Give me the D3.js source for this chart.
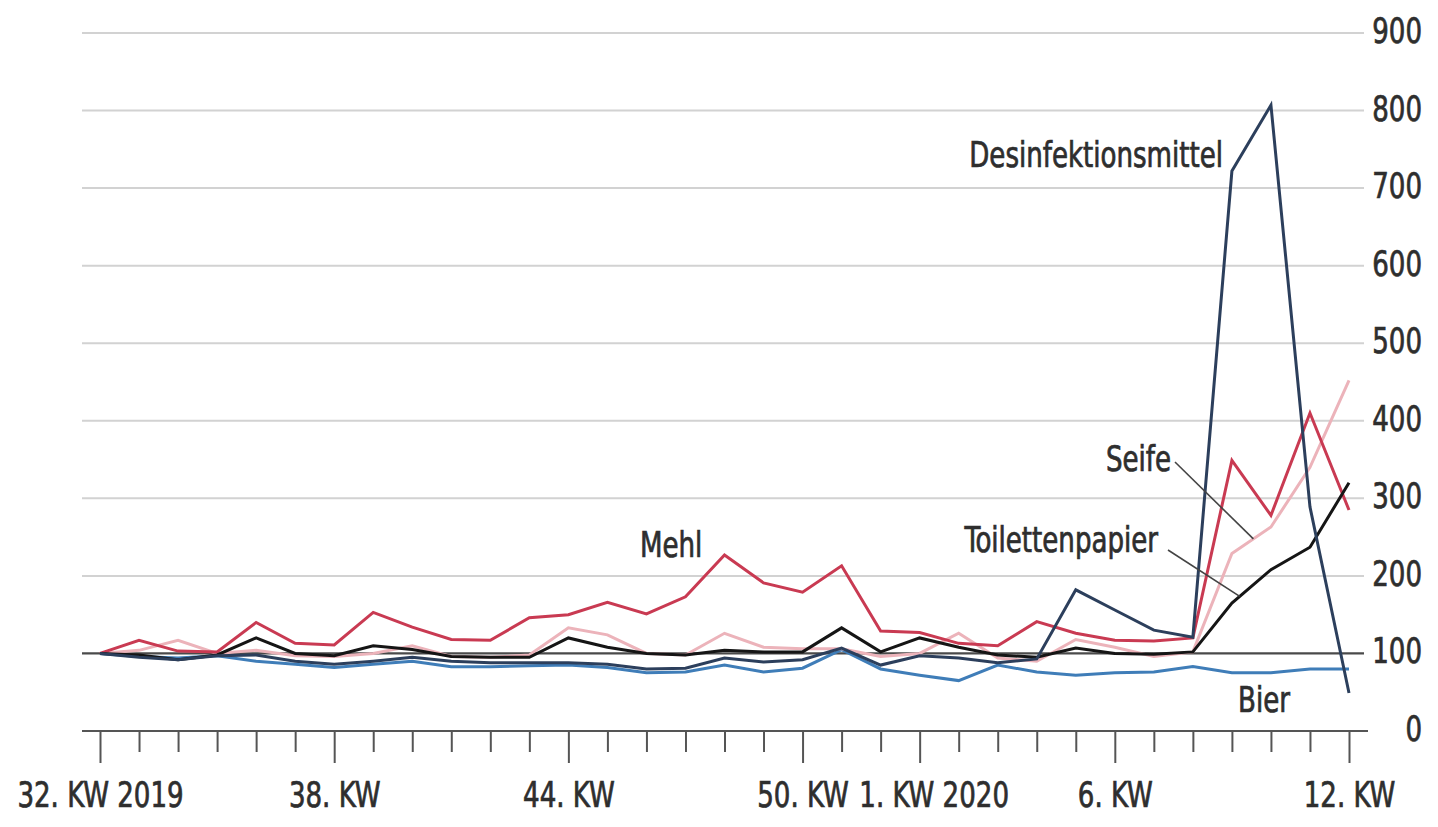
<!DOCTYPE html>
<html><head><meta charset="utf-8">
<script src="https://cdn.jsdelivr.net/npm/d3@7"></script>
<style>
body{margin:0;background:#fff}
text{font-family:"DejaVu Sans Condensed","DejaVu Sans",sans-serif;font-stretch:condensed;fill:#2e2e2e;font-size:29px;stroke:#2e2e2e;stroke-width:0.6px}
</style>
</head><body>
<svg id="c" width="1438" height="827"></svg>
<script>
// ---- data ----
const weeks = ["32","33","34","35","36","37","38","39","40","41","42","43","44","45","46","47","48","49","50","51","52",
               "1","2","3","4","5","6","7","8","9","10","11","12"];
const majorTickIdx = [0,6,12,18,21,26,32];
const tickLabels = ["32. KW 2019","38. KW","44. KW","50. KW","1. KW 2020","6. KW","12. KW"];
const yTicks = [0,100,200,300,400,500,600,700,800,900];

const mehl   = [100,117,103,102,140,113,111,153,134,118,117,146,150,166,151,173,227,191,179,213,129,127,113,110,141,126,117,116,120,349,278,410,285];
const seife  = [100,104,117,100,104,97,96,100,110,96,95,98,133,124,100,98,126,108,106,106,96,100,126,94,90,118,108,96,102,229,263,340,452];
const toilet = [100,98,92,98,120,100,97,110,105,96,95,95,120,108,100,98,104,102,102,133,102,120,108,98,95,107,100,99,102,165,208,237,320];
const desinf = [100,95,92,97,98,90,86,90,95,90,88,88,88,86,80,81,94,89,92,107,85,97,94,88,93,182,156,130,121,722,807,289,49];
const bier   = [100,96,94,97,90,86,82,86,90,83,83,84,85,82,75,76,85,76,81,105,80,72,65,85,76,72,75,76,83,75,75,80,80];

const seriesNames  = ["Bier","Seife","Mehl","Toilettenpapier","Desinfektionsmittel"];
const seriesValues = [bier, seife, mehl, toilet, desinf];
const seriesColors = ["#3f7db8","#ecb3ba","#c93a52","#151515","#2c3f5c"];

// ---- layout ----
const svg = d3.select("#c");
const x = d3.scaleLinear().domain([0, weeks.length-1]).range([100, 1349]);
const y = d3.scaleLinear().domain([0, 900]).range([731, 33]);
const SY = 1.2; // vertical text stretch of the source
const gridX0 = 82, gridX1 = 1364;

// gridlines
svg.append("g").selectAll("line").data(yTicks.filter(d => d !== 0 && d !== 100)).join("line")
  .attr("x1", gridX0).attr("x2", gridX1)
  .attr("y1", d => y(d)).attr("y2", d => y(d))
  .attr("stroke", "#d2d2d2").attr("stroke-width", 2);

// baseline 100 line
svg.append("line").attr("x1", gridX0).attr("x2", gridX1)
  .attr("y1", y(100)).attr("y2", y(100))
  .attr("stroke", "#4a4a4a").attr("stroke-width", 2.2);

// y labels (right)
svg.append("g").selectAll("text").data(yTicks).join("text")
  .attr("text-anchor", "end")
  .attr("transform", d => `translate(1422,${y(d)+10}) scale(1,${SY})`)
  .text(d => d);

// x axis: minor ticks
const xAxisMinor = d3.axisBottom(x).tickValues(d3.range(weeks.length).filter(i => !majorTickIdx.includes(i)))
  .tickSize(21).tickFormat("").tickSizeOuter(0);
const gMinor = svg.append("g").attr("transform", `translate(0,${y(0)})`).call(xAxisMinor);
gMinor.select(".domain").remove();

const xAxisMajor = d3.axisBottom(x).tickValues(majorTickIdx).tickSize(32).tickSizeOuter(0)
  .tickFormat((d, i) => tickLabels[i]);
const gMajor = svg.append("g").attr("transform", `translate(0,${y(0)})`).call(xAxisMajor);
gMajor.select(".domain").remove();
gMajor.selectAll("text").attr("y", null).attr("dy", null)
  .attr("font-size", null).attr("font-family", null).attr("fill", "#2e2e2e")
  .attr("transform", d => `translate(${weeks[d] === "1" ? 14 : 0},76) scale(1,${SY})`);
svg.selectAll(".tick line").attr("stroke", "#555").attr("stroke-width", 2);
svg.selectAll(".tick text").style("font-size", "29px");

// axis line
svg.append("line").attr("x1", gridX0).attr("x2", 1368)
  .attr("y1", y(0)).attr("y2", y(0))
  .attr("stroke", "#555").attr("stroke-width", 2.2);

// series
const line = d3.line().x((d, i) => x(i)).y(d => y(d));
svg.append("g").selectAll("path").data(seriesValues).join("path")
  .attr("d", d => line(d))
  .attr("fill", "none")
  .attr("stroke", (d, i) => seriesColors[i])
  .attr("stroke-width", 3)
  .attr("stroke-linejoin", "miter");

// annotations
const labels = [
  {t:"Desinfektionsmittel", x:1223, y:167, a:"end"},
  {t:"Seife", x:1171, y:471, a:"end"},
  {t:"Toilettenpapier", x:1158, y:552, a:"end"},
  {t:"Mehl", x:640, y:557, a:"start"},
  {t:"Bier", x:1238, y:712, a:"start"}
];
svg.append("g").selectAll("text").data(labels).join("text")
  .attr("text-anchor", d => d.a)
  .attr("transform", d => `translate(${d.x},${d.y}) scale(1,${SY})`)
  .text(d => d.t);

const leaders = [
  {x1:1175, y1:462, x2:x(29.55), y2:y(seife[29] + 0.55*(seife[30]-seife[29]))},
  {x1:1168, y1:550, x2:x(29.2), y2:y(toilet[29] + 0.2*(toilet[30]-toilet[29]))}
];
svg.append("g").selectAll("line").data(leaders).join("line")
  .attr("x1", d => d.x1).attr("y1", d => d.y1).attr("x2", d => d.x2).attr("y2", d => d.y2)
  .attr("stroke", "#444").attr("stroke-width", 1.6);
</script>
</body></html>
